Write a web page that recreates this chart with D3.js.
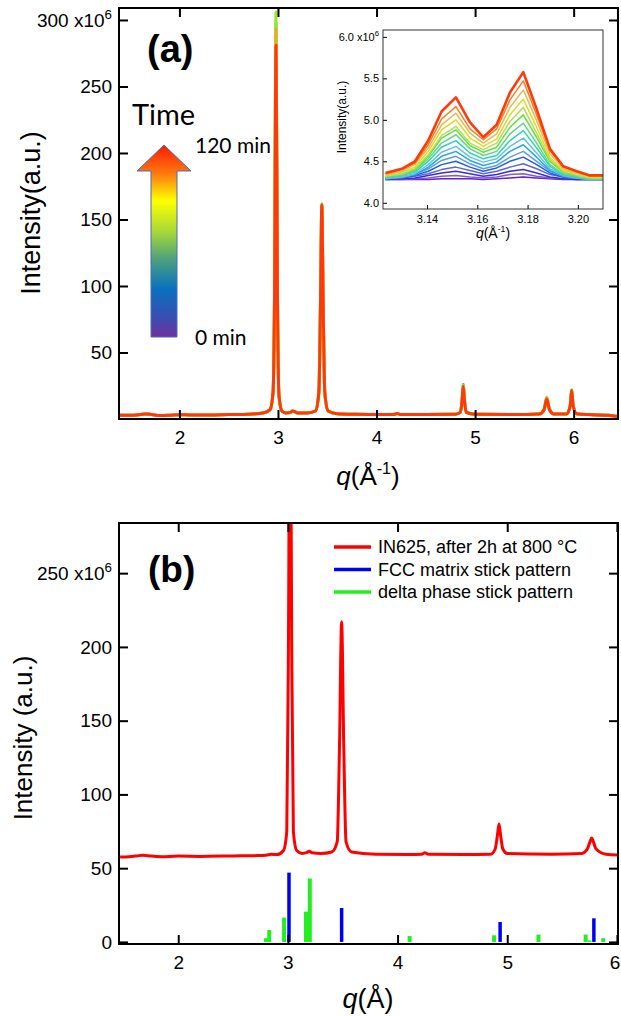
<!DOCTYPE html>
<html>
<head>
<meta charset="utf-8">
<script src="https://cdn.jsdelivr.net/npm/d3@7"></script>
<style>
body { margin: 0; background: #fff; }
svg { display: block; font-family: "Liberation Sans", Arial, sans-serif; }
</style>
</head>
<body>
<div id="main"></div>
<script>
// ---------- panel (a): in-situ patterns, intensity x10^6 ----------
const qA = [1.39, 1.50, 1.60, 1.66, 1.72, 1.80, 1.90, 2.00, 2.10, 2.30, 2.50, 2.70, 2.85, 2.92, 2.95, 2.965, 2.98, 2.995, 3.01, 3.04,
    3.08, 3.12, 3.15, 3.17, 3.20, 3.30, 3.38, 3.415, 3.432, 3.445, 3.458, 3.475, 3.51, 3.60, 3.80, 4.00, 4.18, 4.21, 4.24, 4.50,
    4.80, 4.85, 4.868, 4.88, 4.892, 4.91, 5.00, 5.40, 5.65, 5.70, 5.727, 5.755, 5.80, 5.93, 5.965, 5.98, 5.995, 6.03, 6.15, 6.35, 6.45];
const aTeal = [2.8, 2.8, 3.3, 3.8, 3.3, 2.6, 2.8, 3.2, 3.1, 3.0, 3.3, 3.6, 4.5, 7, 20, 95, 298, 95, 18, 6,
    4.5, 4.8, 6, 5.5, 4.5, 4.5, 6, 20, 90, 161, 90, 20, 6, 4, 3.5, 3.3, 3.4, 4.2, 3.4, 3.4,
    3.6, 5, 14, 26.2, 14, 5, 3.6, 3.4, 3.8, 7, 15, 7, 3.8, 3.8, 10, 21.5, 10, 4, 3.3, 2.8, 1.8];
const aYellow = [2.8, 2.8, 3.3, 3.8, 3.3, 2.6, 2.8, 3.2, 3.1, 3.0, 3.3, 3.6, 4.5, 7, 20, 97, 306, 97, 18, 6,
    4.5, 4.8, 6, 5.5, 4.5, 4.5, 6, 20, 90, 162, 90, 20, 6, 4, 3.5, 3.3, 3.4, 4.2, 3.4, 3.4,
    3.6, 5, 14, 25.2, 14, 5, 3.6, 3.4, 3.8, 7, 16.5, 7, 3.8, 3.8, 10, 22, 10, 4, 3.3, 2.8, 1.8];
const aOrange = [2.8, 2.8, 3.3, 3.8, 3.3, 2.6, 2.8, 3.2, 3.1, 3.0, 3.3, 3.6, 4.5, 7, 20, 93, 293, 93, 18, 6,
    4.5, 4.8, 6, 5.5, 4.5, 4.5, 6, 20, 90, 161, 90, 20, 6, 4, 3.5, 3.3, 3.4, 4.2, 3.4, 3.4,
    3.6, 5, 14, 24.8, 14, 5, 3.6, 3.4, 3.8, 7, 16, 7, 3.8, 3.8, 10, 21.5, 10, 4, 3.3, 2.8, 1.8];
const aRed = [2.8, 2.8, 3.3, 3.8, 3.3, 2.6, 2.8, 3.2, 3.1, 3.0, 3.3, 3.6, 4.5, 7, 20, 90, 281, 90, 18, 6,
    4.5, 4.8, 6, 5.5, 4.5, 4.5, 6, 20, 90, 161, 90, 20, 6, 4, 3.5, 3.3, 3.4, 4.2, 3.4, 3.4,
    3.6, 5, 14, 24.5, 14, 5, 3.6, 3.4, 3.8, 7, 15, 7, 3.8, 3.8, 10, 21.5, 10, 4, 3.3, 2.8, 1.8];
const seriesA = [aTeal, aYellow, aOrange, aRed];
const timesA = [0.55, 0.72, 0.88, 1.0];
const xTicksA = [2, 3, 4, 5, 6];
const yTicksA = [50, 100, 150, 200, 250, 300];

// inset: zoom on the delta peaks, intensity x10^6, one row per time step (0 -> 120 min)
const insetQ = [3.1235, 3.1300, 3.1352, 3.1405, 3.1458, 3.1515, 3.1571, 3.1624, 3.1677, 3.1730, 3.1783, 3.1836, 3.1889, 3.1942, 3.1995, 3.2048, 3.2100];
const insetCurves = [
    [4.28, 4.28, 4.28, 4.28, 4.29, 4.29, 4.29, 4.28, 4.29, 4.30, 4.31, 4.30, 4.29, 4.28, 4.28, 4.28, 4.28],
    [4.28, 4.28, 4.29, 4.30, 4.32, 4.33, 4.31, 4.30, 4.31, 4.34, 4.35, 4.32, 4.30, 4.29, 4.28, 4.28, 4.28],
    [4.28, 4.29, 4.30, 4.33, 4.36, 4.38, 4.35, 4.32, 4.34, 4.38, 4.40, 4.36, 4.31, 4.29, 4.28, 4.28, 4.28],
    [4.29, 4.30, 4.32, 4.35, 4.40, 4.43, 4.39, 4.35, 4.38, 4.43, 4.47, 4.41, 4.34, 4.31, 4.30, 4.29, 4.29],
    [4.30, 4.31, 4.33, 4.38, 4.46, 4.50, 4.43, 4.38, 4.42, 4.50, 4.55, 4.46, 4.36, 4.31, 4.30, 4.29, 4.29],
    [4.30, 4.31, 4.34, 4.41, 4.51, 4.56, 4.47, 4.41, 4.45, 4.55, 4.62, 4.50, 4.38, 4.32, 4.30, 4.29, 4.29],
    [4.29, 4.31, 4.34, 4.43, 4.56, 4.62, 4.51, 4.45, 4.49, 4.62, 4.70, 4.55, 4.39, 4.32, 4.30, 4.28, 4.28],
    [4.29, 4.31, 4.35, 4.46, 4.61, 4.68, 4.55, 4.49, 4.53, 4.68, 4.78, 4.60, 4.41, 4.33, 4.30, 4.28, 4.28],
    [4.30, 4.33, 4.37, 4.50, 4.67, 4.75, 4.60, 4.53, 4.57, 4.75, 4.87, 4.66, 4.44, 4.34, 4.31, 4.29, 4.29],
    [4.31, 4.33, 4.39, 4.53, 4.72, 4.82, 4.65, 4.57, 4.62, 4.83, 4.96, 4.72, 4.46, 4.35, 4.32, 4.29, 4.29],
    [4.32, 4.35, 4.40, 4.56, 4.78, 4.88, 4.69, 4.61, 4.67, 4.91, 5.06, 4.79, 4.50, 4.37, 4.33, 4.30, 4.30],
    [4.32, 4.35, 4.41, 4.58, 4.81, 4.92, 4.72, 4.64, 4.72, 4.98, 5.15, 4.84, 4.52, 4.38, 4.33, 4.30, 4.30],
    [4.33, 4.37, 4.43, 4.62, 4.88, 5.00, 4.78, 4.68, 4.77, 5.06, 5.25, 4.91, 4.55, 4.39, 4.35, 4.31, 4.31],
    [4.34, 4.38, 4.46, 4.66, 4.94, 5.08, 4.84, 4.72, 4.83, 5.15, 5.36, 4.99, 4.59, 4.41, 4.36, 4.32, 4.32],
    [4.35, 4.40, 4.48, 4.70, 5.01, 5.16, 4.89, 4.76, 4.89, 5.24, 5.47, 5.06, 4.63, 4.43, 4.38, 4.33, 4.33],
    [4.36, 4.41, 4.50, 4.75, 5.10, 5.27, 4.97, 4.79, 4.94, 5.33, 5.575, 5.13, 4.65, 4.44, 4.38, 4.33, 4.33]
];
const insetXTicks = [3.14, 3.16, 3.18, 3.20];
const insetYTicks = [4.0, 4.5, 5.0, 5.5, 6.0];

// ---------- panel (b): after 2h at 800 C, with stick patterns ----------
const qB = [1.47, 1.55, 1.62, 1.68, 1.75, 1.85, 2.00, 2.20, 2.50, 2.70, 2.80, 2.85, 2.90, 2.96, 2.99, 3.005, 3.02, 3.035, 3.05, 3.08,
    3.13, 3.17, 3.195, 3.22, 3.30, 3.40, 3.45, 3.47, 3.49, 3.51, 3.53, 3.58, 3.80, 4.10, 4.22, 4.25, 4.28, 4.60, 4.85, 4.89,
    4.91, 4.925, 4.94, 4.96, 5.00, 5.40, 5.68, 5.73, 5.755, 5.77, 5.785, 5.81, 5.90, 6.01];
const bIN625 = [57.5, 57.8, 58.3, 58.8, 58.2, 57.8, 58.2, 58.0, 58.3, 58.5, 58.8, 59.5, 59.2, 62, 75, 200, 420, 200, 75, 62,
    60, 60.5, 61.5, 60.5, 60, 61, 68, 130, 217, 130, 68, 61, 59.5, 59.3, 59.5, 60.5, 59.5, 59.3, 59.5, 63,
    72, 80, 72, 63, 60, 59.5, 60, 63, 68, 70.5, 68, 63, 59.5, 59];
const fccQ = [3.01, 3.49, 4.935, 5.79];
const fccI = [47, 23, 13.5, 16];
const deltaQ = [2.80, 2.83, 2.965, 3.165, 3.20, 4.11, 4.88, 5.285, 5.715, 5.75, 5.875];
const deltaI = [2.5, 8, 16.5, 20.5, 43, 4, 4.5, 5, 5, 1, 2.5];
const legendB = ["IN625, after 2h at 800 °C", "FCC matrix stick pattern", "delta phase stick pattern"];
const legendColors = ["#ff0000", "#0000f0", "#22ee22"];
const xTicksB = [2, 3, 4, 5, 6];
const yTicksB = [0, 50, 100, 150, 200, 250];

const W = 621, H = 1016;
const svg = d3.select('#main').append('svg').attr('width', W).attr('height', H);

// rainbow used for time (0 = purple ... 1 = red)
const timeColor = d3.scaleLinear()
    .domain([0, 0.2, 0.35, 0.5, 0.62, 0.78, 0.9, 1])
    .range(["#6a1fc8", "#2232e0", "#2090f0", "#30d0e0", "#30e040", "#d8e820", "#f4a020", "#ff3a0a"]);

function drawAxes(box, x, y, xt, yt, opt) {
    const g = svg.append('g');
    const t = opt.tick;
    const styleAxis = function (sel) {
        sel.select('.domain').remove();
        sel.selectAll('.tick line').attr('stroke', '#000').attr('stroke-width', opt.sw);
        sel.selectAll('text').attr('font-size', opt.font).attr('font-family', '"Liberation Sans", Arial, sans-serif').attr('fill', '#000');
    };
    const bottom = g.append('g').attr('transform', 'translate(0,' + box.bottom + ')')
        .call(d3.axisBottom(x).tickValues(xt).tickSizeInner(-t).tickSizeOuter(0).tickPadding(opt.xpad).tickFormat(opt.xfmt))
        .call(styleAxis);
    if (opt.edgeLast) {
        // last label sits on the page edge: keep it inside
        bottom.selectAll('.tick text').filter(function (d) { return d === xt[xt.length - 1]; })
            .attr('text-anchor', 'end').attr('dx', 3);
    }
    g.append('g').attr('transform', 'translate(' + box.left + ',0)')
        .call(d3.axisLeft(y).tickValues(yt).tickSizeInner(-t).tickSizeOuter(0).tickPadding(opt.ypad).tickFormat(opt.yfmt))
        .call(styleAxis)
        .call(function (sel) {
            // exponent on the highest label
            const top = sel.selectAll('.tick text').filter(function (d) { return d === yt[yt.length - 1]; });
            top.text(opt.yfmt(yt[yt.length - 1]) + ' x10');
            top.append('tspan').attr('dy', '-0.6em').attr('font-size', opt.font * 0.7).text('6');
        });
    if (opt.mirror) {
        g.append('g').attr('transform', 'translate(0,' + box.top + ')')
            .call(d3.axisTop(x).tickValues(xt).tickSizeInner(-t).tickSizeOuter(0).tickFormat(''))
            .call(styleAxis);
        g.append('g').attr('transform', 'translate(' + box.right + ',0)')
            .call(d3.axisRight(y).tickValues(yt).tickSizeInner(-t).tickSizeOuter(0).tickFormat(''))
            .call(styleAxis);
    }
    g.append('rect')
        .attr('x', box.left).attr('y', box.top)
        .attr('width', box.right - box.left).attr('height', box.bottom - box.top)
        .attr('fill', 'none').attr('stroke', opt.frame).attr('stroke-width', opt.sw);
}

function clipFor(id, box) {
    svg.append('clipPath').attr('id', id).append('rect')
        .attr('x', box.left).attr('y', box.top)
        .attr('width', box.right - box.left).attr('height', box.bottom - box.top);
    return 'url(#' + id + ')';
}

function qLabel(x, y, size, sup) {
    const t = svg.append('text').attr('x', x).attr('y', y).attr('text-anchor', 'middle').attr('font-size', size);
    t.append('tspan').attr('font-style', 'italic').text('q');
    t.append('tspan').text('(Å');
    if (sup) {
        t.append('tspan').attr('dy', -size * 0.42).attr('font-size', size * 0.62).text('-1');
        t.append('tspan').attr('dy', size * 0.42).text(')');
    } else {
        t.append('tspan').text(')');
    }
}

// ===== panel (a) =====
const boxA = {left: 119, right: 618, top: 8, bottom: 419};
const xA = d3.scaleLinear().domain([1.387, 6.45]).range([boxA.left, boxA.right]);
const yA = d3.scaleLinear().domain([0, 309]).range([boxA.bottom, boxA.top]);
const lineA = d3.line().curve(d3.curveMonotoneX)
    .x(function (d, i) { return xA(qA[i]); })
    .y(function (d) { return yA(d); });

const clipA = clipFor('clipA', boxA);
svg.append('g').attr('clip-path', clipA).selectAll('path').data(seriesA).enter()
    .append('path')
    .attr('d', lineA)
    .attr('fill', 'none')
    .attr('stroke', function (d, i) { return timeColor(timesA[i]); })
    .attr('stroke-width', 3)
    .attr('stroke-linejoin', 'round');

drawAxes(boxA, xA, yA, xTicksA, yTicksA, {
    tick: 9, sw: 2, font: 19, xpad: 12, ypad: 7, frame: '#000', mirror: true,
    xfmt: d3.format('d'), yfmt: d3.format('d')
});

svg.append('text').attr('transform', 'translate(40,213) rotate(-90)')
    .attr('text-anchor', 'middle').attr('font-size', 27).text('Intensity(a.u.)');
qLabel(368, 485, 26, true);
svg.append('text').attr('x', 147).attr('y', 62).attr('font-size', 38).attr('font-weight', 'bold').text('(a)');

// time arrow
const grad = svg.append('defs').append('linearGradient').attr('id', 'timeGrad')
    .attr('gradientUnits', 'userSpaceOnUse').attr('x1', 0).attr('x2', 0).attr('y1', 145).attr('y2', 337);
[[0, "#ff1a00"], [0.15, "#ff7a10"], [0.29, "#ffff00"], [0.45, "#a8d838"], [0.6, "#4aa080"], [0.75, "#0a70c0"], [0.9, "#3a4eb0"], [1, "#7030a0"]]
    .forEach(function (s) { grad.append('stop').attr('offset', s[0]).attr('stop-color', s[1]); });
svg.append('path')
    .attr('d', 'M164,145 L191,171 L177,171 L177,337 L151,337 L151,171 L137,171 Z')
    .attr('fill', 'url(#timeGrad)').attr('stroke', '#4a6fb5').attr('stroke-width', 1);
svg.append('text').attr('x', 132).attr('y', 125).attr('font-family', 'Lato, "Open Sans", sans-serif').attr('font-size', 29).text('Time');
svg.append('text').attr('x', 195).attr('y', 153).attr('font-family', 'Lato, "Open Sans", sans-serif').attr('font-size', 21).text('120 min');
svg.append('text').attr('x', 195).attr('y', 345).attr('font-family', 'Lato, "Open Sans", sans-serif').attr('font-size', 21).text('0 min');

// ===== inset =====
const boxI = {left: 383, right: 603, top: 30, bottom: 209};
const xI = d3.scaleLinear().domain([3.1225, 3.21]).range([boxI.left, boxI.right]);
const yI = d3.scaleLinear().domain([3.925, 6.083]).range([boxI.bottom, boxI.top]);
svg.append('rect').attr('x', boxI.left).attr('y', boxI.top)
    .attr('width', boxI.right - boxI.left).attr('height', boxI.bottom - boxI.top).attr('fill', '#fff');
const lineI = d3.line()
    .x(function (d, i) { return xI(insetQ[i]); })
    .y(function (d) { return yI(d); });
const nI = insetCurves.length;
svg.append('g').attr('clip-path', clipFor('clipI', boxI)).selectAll('path').data(insetCurves).enter()
    .append('path')
    .attr('d', lineI)
    .attr('fill', 'none')
    .attr('stroke', function (d, i) {
        const c = timeColor(i / (nI - 1));
        return (i % 2 === 1 && i < nI - 1) ? d3.interpolateRgb(c, "#c8c8c8")(0.35) : c;
    })
    .attr('stroke-width', function (d, i) { return i === nI - 1 ? 2.6 : 1.5; })
    .attr('stroke-linejoin', 'round');
drawAxes(boxI, xI, yI, insetXTicks, insetYTicks, {
    tick: 4, sw: 1, font: 11, xpad: 6, ypad: 4, frame: '#333', mirror: false,
    xfmt: d3.format('.2f'), yfmt: d3.format('.1f')
});
svg.append('text').attr('transform', 'translate(346,117) rotate(-90)')
    .attr('text-anchor', 'middle').attr('font-size', 12).text('Intensity(a.u.)');
qLabel(493, 238, 14, true);

// ===== panel (b) =====
const boxB = {left: 119, right: 618, top: 523, bottom: 944};
const xB = d3.scaleLinear().domain([1.46, 6.01]).range([boxB.left, boxB.right]);
const yB = d3.scaleLinear().domain([-1.4, 284]).range([boxB.bottom, boxB.top]);
const clipB = clipFor('clipB', boxB);
const gB = svg.append('g').attr('clip-path', clipB);

gB.selectAll('line.delta').data(deltaQ).enter().append('line').attr('class', 'delta')
    .attr('x1', function (d) { return xB(d); }).attr('x2', function (d) { return xB(d); })
    .attr('y1', yB(0)).attr('y2', function (d, i) { return yB(deltaI[i]); })
    .attr('stroke', legendColors[2]).attr('stroke-width', 4);
gB.selectAll('line.fcc').data(fccQ).enter().append('line').attr('class', 'fcc')
    .attr('x1', function (d) { return xB(d); }).attr('x2', function (d) { return xB(d); })
    .attr('y1', yB(0)).attr('y2', function (d, i) { return yB(fccI[i]); })
    .attr('stroke', legendColors[1]).attr('stroke-width', 3.5);
gB.append('path')
    .attr('d', d3.line().curve(d3.curveMonotoneX)
        .x(function (d, i) { return xB(qB[i]); })
        .y(function (d) { return yB(d); })(bIN625))
    .attr('fill', 'none').attr('stroke', legendColors[0]).attr('stroke-width', 3).attr('stroke-linejoin', 'round');

drawAxes(boxB, xB, yB, xTicksB, yTicksB, {
    tick: 9, sw: 2, font: 19, xpad: 12, ypad: 7, frame: '#000', mirror: true, edgeLast: true,
    xfmt: d3.format('d'), yfmt: d3.format('d')
});

svg.append('text').attr('transform', 'translate(32,738) rotate(-90)')
    .attr('text-anchor', 'middle').attr('font-size', 26).text('Intensity (a.u.)');
qLabel(368, 1008, 27, false);
svg.append('text').attr('x', 148).attr('y', 582).attr('font-size', 37).attr('font-weight', 'bold').text('(b)');

const leg = svg.append('g').selectAll('g').data(legendB).enter().append('g')
    .attr('transform', function (d, i) { return 'translate(334,' + (547 + i * 22.5) + ')'; });
leg.append('line').attr('x1', 0).attr('x2', 37).attr('y1', 0).attr('y2', 0)
    .attr('stroke', function (d, i) { return legendColors[i]; }).attr('stroke-width', 3.5);
leg.append('text').attr('x', 44).attr('dy', '0.35em').attr('font-size', 18).text(function (d) { return d; });
</script>
</body>
</html>
